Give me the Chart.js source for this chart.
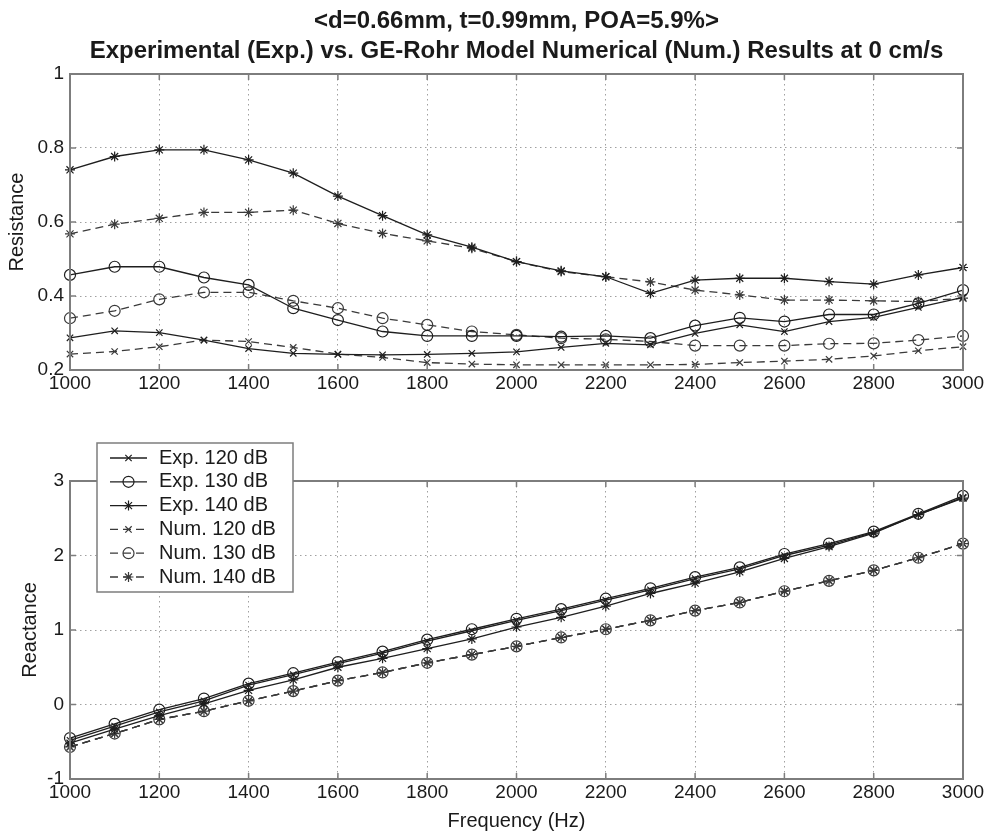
<!DOCTYPE html>
<html>
<head>
<meta charset="utf-8">
<script src="https://cdn.jsdelivr.net/npm/chart.js@4.4.1/dist/chart.umd.min.js"></script>
<style>
  html, body { margin: 0; padding: 0; background: #fff; }
  #wrap { position: relative; width: 989px; height: 833px; }
  canvas { position: absolute; left: 0; }
  #resChart { top: 0; }
  #reaChart { top: 400px; }
</style>
</head>
<body>
<div id="wrap">
  <canvas id="resChart" width="989" height="400" style="width:989px;height:400px"></canvas>
  <canvas id="reaChart" width="989" height="433" style="width:989px;height:433px"></canvas>
</div>
<script>
// Frequency grid (Hz)
const frequencies = [1000, 1100, 1200, 1300, 1400, 1500, 1600, 1700, 1800, 1900, 2000,
                     2100, 2200, 2300, 2400, 2500, 2600, 2700, 2800, 2900, 3000];

// Tick values
const freqTicks = [1000, 1200, 1400, 1600, 1800, 2000, 2200, 2400, 2600, 2800, 3000];
const resistanceTicks = [0.2, 0.4, 0.6, 0.8, 1];
const reactanceTicks = [-1, 0, 1, 2, 3];

// Series labels
const seriesLabels = ['Exp. 120 dB', 'Exp. 130 dB', 'Exp. 140 dB', 'Num. 120 dB', 'Num. 130 dB', 'Num. 140 dB'];

// Normalised resistance
const resExp120 = [0.287, 0.306, 0.301, 0.281, 0.258, 0.245, 0.242, 0.241, 0.242, 0.245, 0.249,
                   0.261, 0.272, 0.268, 0.299, 0.322, 0.304, 0.331, 0.342, 0.369, 0.396];
const resExp130 = [0.457, 0.479, 0.479, 0.450, 0.430, 0.367, 0.335, 0.304, 0.292, 0.292, 0.292,
                   0.290, 0.292, 0.286, 0.320, 0.341, 0.331, 0.350, 0.350, 0.380, 0.416];
const resExp140 = [0.741, 0.777, 0.795, 0.795, 0.768, 0.732, 0.670, 0.617, 0.565, 0.532, 0.493,
                   0.468, 0.452, 0.407, 0.443, 0.448, 0.448, 0.439, 0.432, 0.457, 0.477];
const resNum120 = [0.243, 0.250, 0.263, 0.281, 0.277, 0.261, 0.243, 0.234, 0.220, 0.216, 0.214,
                   0.214, 0.214, 0.214, 0.215, 0.220, 0.224, 0.229, 0.238, 0.252, 0.263];
const resNum130 = [0.340, 0.360, 0.391, 0.410, 0.410, 0.387, 0.367, 0.340, 0.322, 0.304, 0.295,
                   0.286, 0.283, 0.277, 0.266, 0.266, 0.266, 0.271, 0.272, 0.281, 0.292];
const resNum140 = [0.568, 0.594, 0.610, 0.626, 0.626, 0.632, 0.596, 0.569, 0.549, 0.529, 0.493,
                   0.466, 0.452, 0.438, 0.416, 0.403, 0.389, 0.389, 0.387, 0.385, 0.394];

// Normalised reactance
const reaExp120 = [-0.48, -0.29, -0.10, 0.05, 0.26, 0.40, 0.55, 0.69, 0.85, 0.99, 1.13,
                   1.26, 1.40, 1.54, 1.69, 1.82, 2.00, 2.14, 2.31, 2.55, 2.78];
const reaExp130 = [-0.45, -0.26, -0.07, 0.08, 0.28, 0.42, 0.57, 0.71, 0.87, 1.01, 1.15,
                   1.28, 1.42, 1.56, 1.71, 1.84, 2.02, 2.16, 2.32, 2.56, 2.80];
const reaExp140 = [-0.52, -0.33, -0.15, 0.01, 0.19, 0.33, 0.50, 0.62, 0.75, 0.88, 1.04,
                   1.17, 1.32, 1.49, 1.63, 1.78, 1.96, 2.12, 2.30, 2.55, 2.77];
const reaNum120 = [-0.57, -0.39, -0.20, -0.09, 0.05, 0.18, 0.32, 0.43, 0.56, 0.67, 0.78,
                   0.90, 1.01, 1.13, 1.26, 1.37, 1.52, 1.66, 1.80, 1.97, 2.16];
const reaNum130 = [-0.57, -0.39, -0.20, -0.09, 0.05, 0.18, 0.32, 0.43, 0.56, 0.67, 0.78,
                   0.90, 1.01, 1.13, 1.26, 1.37, 1.52, 1.66, 1.80, 1.97, 2.16];
const reaNum140 = [-0.57, -0.39, -0.20, -0.09, 0.05, 0.18, 0.32, 0.43, 0.56, 0.67, 0.78,
                   0.90, 1.01, 1.13, 1.26, 1.37, 1.52, 1.66, 1.80, 1.97, 2.16];

const FONT = '"Liberation Sans", Arial, Helvetica, sans-serif';
Chart.defaults.font.family = FONT;
Chart.defaults.font.size = 19;
Chart.defaults.color = '#1a1a1a';
Chart.defaults.animation = false;

const markerStyles = ['crossRot', 'circle', 'star', 'crossRot', 'circle', 'star'];
const markerSizes = [4.5, 5.5, 5, 4.5, 5.5, 5];

function toPoints(values) {
  return frequencies.map((f, i) => ({ x: f, y: values[i] }));
}

function makeDatasets(seriesList) {
  return seriesList.map((values, i) => {
    const numeric = i >= 3;
    return {
      label: seriesLabels[i],
      data: toPoints(values),
      borderColor: numeric ? '#3a3a3a' : '#1e1e1e',
      borderWidth: 1.3,
      borderDash: numeric ? [8, 5] : [],
      tension: 0,
      fill: false,
      clip: false,
      pointStyle: markerStyles[i],
      pointRadius: markerSizes[i],
      pointBorderWidth: 1.2,
      pointBorderColor: numeric ? '#3a3a3a' : '#1e1e1e',
      pointBackgroundColor: 'rgba(0,0,0,0)'
    };
  });
}

// Inward tick marks on all four sides plus the axes frame
const frameTicks = {
  id: 'frameTicks',
  afterDraw(chart) {
    const { ctx, chartArea: a, scales } = chart;
    const xs = scales.x, ys = scales.y;
    const L = 6;
    ctx.save();
    ctx.strokeStyle = '#7d7d7d';
    ctx.lineWidth = 1.5;
    ctx.setLineDash([]);
    ctx.beginPath();
    xs.ticks.forEach(t => {
      const px = xs.getPixelForValue(t.value);
      ctx.moveTo(px, a.bottom); ctx.lineTo(px, a.bottom - L);
      ctx.moveTo(px, a.top); ctx.lineTo(px, a.top + L);
    });
    ys.ticks.forEach(t => {
      const py = ys.getPixelForValue(t.value);
      ctx.moveTo(a.left, py); ctx.lineTo(a.left + L, py);
      ctx.moveTo(a.right, py); ctx.lineTo(a.right - L, py);
    });
    ctx.stroke();
    ctx.lineWidth = 2;
    ctx.strokeRect(a.left, a.top, a.right - a.left, a.bottom - a.top);
    ctx.restore();
  }
};

// Boxed legend with line samples and markers
const boxLegend = {
  id: 'boxLegend',
  afterDraw(chart, args, opts) {
    if (!opts || !opts.show) return;
    const ctx = chart.ctx;
    const { x, y, w, h, first, rowH } = opts;
    ctx.save();
    ctx.fillStyle = '#ffffff';
    ctx.fillRect(x, y, w, h);
    ctx.strokeStyle = '#7d7d7d';
    ctx.lineWidth = 1.5;
    ctx.strokeRect(x, y, w, h);
    chart.data.datasets.forEach((ds, i) => {
      const cy = y + first + i * rowH;
      ctx.strokeStyle = ds.borderColor;
      ctx.lineWidth = ds.borderWidth;
      ctx.setLineDash(ds.borderDash || []);
      ctx.beginPath();
      ctx.moveTo(x + 13, cy);
      ctx.lineTo(x + 50, cy);
      ctx.stroke();
      ctx.setLineDash([]);
      ctx.fillStyle = 'rgba(0,0,0,0)';
      ctx.strokeStyle = ds.pointBorderColor;
      ctx.lineWidth = ds.pointBorderWidth;
      Chart.helpers.drawPoint(ctx, {
        pointStyle: ds.pointStyle, radius: ds.pointRadius,
        borderWidth: ds.pointBorderWidth, rotation: 0
      }, x + 31.5, cy);
      ctx.fillStyle = '#1a1a1a';
      ctx.font = '20px ' + FONT;
      ctx.textBaseline = 'middle';
      ctx.textAlign = 'left';
      ctx.fillText(ds.label, x + 62, cy);
    });
    ctx.restore();
  }
};

function axisOptions(cfg) {
  return {
    x: {
      type: 'linear',
      min: 1000, max: 3000,
      afterBuildTicks: s => { s.ticks = freqTicks.map(v => ({ value: v })); },
      ticks: { callback: v => String(v), padding: 2, maxRotation: 0, autoSkip: false, color: '#1a1a1a' },
      grid: { color: '#a0a0a0', lineWidth: 1, drawTicks: false },
      border: { display: false, dash: [1.5, 3.5] },
      title: cfg.xTitle ? { display: true, text: cfg.xTitle, font: { size: 20 }, padding: { top: 0, bottom: 0 }, color: '#1a1a1a' } : { display: false },
      afterFit: s => { s.height = cfg.xHeight; }
    },
    y: {
      type: 'linear',
      min: cfg.yTicks[0], max: cfg.yTicks[cfg.yTicks.length - 1],
      afterBuildTicks: s => { s.ticks = cfg.yTicks.map(v => ({ value: v })); },
      ticks: { callback: v => String(v), padding: 6, color: '#1a1a1a' },
      grid: { color: '#a0a0a0', lineWidth: 1, drawTicks: false },
      border: { display: false, dash: [1.5, 3.5] },
      title: { display: true, text: cfg.yTitle, font: { size: 20 }, padding: { top: cfg.yTitlePad, bottom: 0 }, color: '#1a1a1a' },
      afterFit: s => { s.width = 70; }
    }
  };
}

new Chart(document.getElementById('resChart'), {
  type: 'line',
  data: { datasets: makeDatasets([resExp120, resExp130, resExp140, resNum120, resNum130, resNum140]) },
  options: {
    responsive: false,
    layout: { padding: { left: 0, right: 26, top: 0, bottom: 0 } },
    scales: axisOptions({ yTicks: resistanceTicks, yTitle: 'Resistance', yTitlePad: 5, xHeight: 30 }),
    plugins: {
      legend: { display: false },
      tooltip: { enabled: false },
      title: {
        display: true,
        fullSize: false,
        text: ['<d=0.66mm, t=0.99mm, POA=5.9%>',
               'Experimental (Exp.) vs. GE-Rohr Model Numerical (Num.) Results at 0 cm/s'],
        font: { size: 24, weight: 'bold', lineHeight: 1.25 },
        color: '#1a1a1a',
        padding: { top: 6, bottom: 8 }
      },
      boxLegend: { show: false }
    }
  },
  plugins: [frameTicks, boxLegend]
});

new Chart(document.getElementById('reaChart'), {
  type: 'line',
  data: { datasets: makeDatasets([reaExp120, reaExp130, reaExp140, reaNum120, reaNum130, reaNum140]) },
  options: {
    responsive: false,
    layout: { padding: { left: 0, right: 26, top: 81, bottom: 0 } },
    scales: axisOptions({ yTicks: reactanceTicks, yTitle: 'Reactance', yTitlePad: 18, xHeight: 54, xTitle: 'Frequency (Hz)' }),
    plugins: {
      legend: { display: false },
      tooltip: { enabled: false },
      title: { display: false },
      boxLegend: { show: true, x: 97, y: 43, w: 196, h: 149, first: 15, rowH: 23.8 }
    }
  },
  plugins: [frameTicks, boxLegend]
});
</script>
</body>
</html>
